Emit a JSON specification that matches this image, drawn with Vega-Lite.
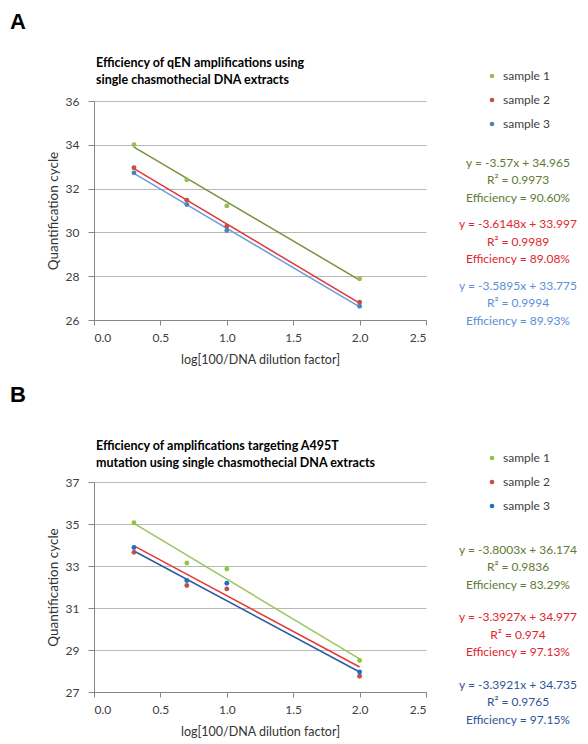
{
  "$schema": "https://vega.github.io/schema/vega-lite/v6.json",
  "background": "white",
  "padding": {"left": 10, "top": 10, "right": 0, "bottom": 0},
  "config": {
    "font": "Lato",
    "view": {"stroke": null},
    "axis": {
      "labelFont": "Lato", "labelFontSize": 12, "labelColor": "#404040",
      "titleFont": "Lato", "titleFontWeight": "normal", "titleColor": "#333333",
      "domainColor": "#868686", "tickColor": "#868686", "gridColor": "#b8b8b8"
    },
    "legend": {
      "labelFont": "Lato", "labelFontSize": 12, "labelColor": "#404040",
      "symbolType": "circle", "symbolSize": 22, "rowPadding": 12, "labelOffset": 5, "padding": 0
    }
  },
  "datasets": {
    "a": [
      {"sample": "sample 1", "x": 0.301, "qc": 34.0},
      {"sample": "sample 1", "x": 0.699, "qc": 32.4},
      {"sample": "sample 1", "x": 1.0, "qc": 31.21},
      {"sample": "sample 1", "x": 2.0, "qc": 27.88},
      {"sample": "sample 2", "x": 0.301, "qc": 32.95},
      {"sample": "sample 2", "x": 0.699, "qc": 31.47},
      {"sample": "sample 2", "x": 1.0, "qc": 30.28},
      {"sample": "sample 2", "x": 2.0, "qc": 26.81},
      {"sample": "sample 3", "x": 0.301, "qc": 32.72},
      {"sample": "sample 3", "x": 0.699, "qc": 31.27},
      {"sample": "sample 3", "x": 1.0, "qc": 30.09},
      {"sample": "sample 3", "x": 2.0, "qc": 26.63}
    ],
    "trendA": [
      {"sample": "sample 1", "x": 0.301, "qc": 33.89},
      {"sample": "sample 1", "x": 2.0, "qc": 27.825},
      {"sample": "sample 2", "x": 0.301, "qc": 32.909},
      {"sample": "sample 2", "x": 2.0, "qc": 26.768},
      {"sample": "sample 3", "x": 0.301, "qc": 32.695},
      {"sample": "sample 3", "x": 2.0, "qc": 26.596}
    ],
    "b": [
      {"sample": "sample 1", "x": 0.301, "qc": 35.06},
      {"sample": "sample 1", "x": 0.699, "qc": 33.14},
      {"sample": "sample 1", "x": 1.0, "qc": 32.86},
      {"sample": "sample 1", "x": 2.0, "qc": 28.5},
      {"sample": "sample 2", "x": 0.301, "qc": 33.65},
      {"sample": "sample 2", "x": 0.699, "qc": 32.07},
      {"sample": "sample 2", "x": 1.0, "qc": 31.91},
      {"sample": "sample 2", "x": 2.0, "qc": 27.75},
      {"sample": "sample 3", "x": 0.301, "qc": 33.88},
      {"sample": "sample 3", "x": 0.699, "qc": 32.31},
      {"sample": "sample 3", "x": 1.0, "qc": 32.18},
      {"sample": "sample 3", "x": 2.0, "qc": 27.95}
    ],
    "trendB": [
      {"sample": "sample 1", "x": 0.301, "qc": 35.03},
      {"sample": "sample 1", "x": 2.0, "qc": 28.573},
      {"sample": "sample 2", "x": 0.301, "qc": 33.956},
      {"sample": "sample 2", "x": 2.0, "qc": 28.192},
      {"sample": "sample 3", "x": 0.301, "qc": 33.714},
      {"sample": "sample 3", "x": 2.0, "qc": 27.951}
    ],
    "eqA": [
      {"sample": "sample 1", "label": "y = -3.57x + 34.965\nR² = 0.9973\nEfficiency = 90.60%"},
      {"sample": "sample 2", "label": "y = -3.6148x + 33.997\nR² = 0.9989\nEfficiency = 89.08%"},
      {"sample": "sample 3", "label": "y = -3.5895x + 33.775\nR² = 0.9994\nEfficiency = 89.93%"}
    ],
    "eqB": [
      {"sample": "sample 1", "label": "y = -3.8003x + 36.174\nR² = 0.9836\nEfficiency = 83.29%"},
      {"sample": "sample 2", "label": "y = -3.3927x + 34.977\nR² = 0.974\nEfficiency = 97.13%"},
      {"sample": "sample 3", "label": "y = -3.3921x + 34.735\nR² = 0.9765\nEfficiency = 97.15%"}
    ]
  },
  "resolve": {"scale": {"fill": "independent", "stroke": "independent"}, "legend": {"fill": "independent"}},
  "spacing": 17,
  "vconcat": [
    {
      "title": {"text": "A", "anchor": "start", "frame": "bounds", "font": "Liberation Sans", "fontSize": 22, "fontWeight": "bold", "color": "#000000", "offset": 23, "dx": -36},
      "spacing": 27,
      "bounds": "flush",
      "resolve": {"scale": {"fill": "independent"}, "legend": {"fill": "independent"}},
      "hconcat": [
        {
          "width": 332, "height": 219,
          "title": {"text": ["Efficiency of qEN amplifications using", "single chasmothecial DNA extracts"], "anchor": "start", "frame": "group", "font": "Lato", "fontSize": 12.5, "fontWeight": "bold", "color": "#000000", "lineHeight": 17, "offset": -16, "dx": 2},
          "layer": [
            {
              "data": {"name": "trendA"},
              "mark": {"type": "line", "strokeWidth": 1.5},
              "encoding": {
                "x": {"field": "x", "type": "quantitative", "scale": {"domain": [0, 2.5], "nice": false}, "axis": {"values": [0, 0.5, 1, 1.5, 2, 2.5], "format": ".1f", "title": "log[100/DNA dilution factor]", "titleFontSize": 12.5, "tickSize": 5, "labelPadding": 7, "titlePadding": 10, "grid": false}},
                "y": {"field": "qc", "type": "quantitative", "scale": {"domain": [26, 36], "nice": false, "zero": false}, "axis": {"values": [26, 28, 30, 32, 34, 36], "title": "Quantification cycle", "titleFontSize": 13.5, "tickSize": 6, "labelPadding": 9, "titlePadding": 5, "grid": true}},
                "stroke": {"field": "sample", "type": "nominal", "scale": {"domain": ["sample 1", "sample 2", "sample 3"], "range": ["#77933c", "#e3343a", "#6b9bd8"]}, "legend": null}
              }
            },
            {
              "data": {"name": "a"},
              "mark": {"type": "point", "filled": true, "size": 24, "opacity": 1},
              "encoding": {
                "x": {"field": "x", "type": "quantitative"},
                "y": {"field": "qc", "type": "quantitative"},
                "fill": {"field": "sample", "type": "nominal", "scale": {"domain": ["sample 1", "sample 2", "sample 3"], "range": ["#9bbb59", "#c0504d", "#4f81bd"]}, "legend": {"title": null, "orient": "none", "legendX": 392, "legendY": -31}}
              }
            }
          ]
        },
        {
          "width": 130, "height": 246,
          "data": {"name": "eqA"},
          "encoding": {
            "y": {"field": "sample", "type": "ordinal", "scale": {"type": "point", "padding": 1.236}, "axis": null},
            "text": {"field": "label"}
          },
          "layer": [
            {"transform": [{"filter": "datum.sample === 'sample 1'"}], "mark": {"type": "text", "lineBreak": "\n", "fontSize": 12, "lineHeight": 17.5, "baseline": "middle", "align": "center", "color": "#5e7a33"}},
            {"transform": [{"filter": "datum.sample === 'sample 2'"}], "mark": {"type": "text", "lineBreak": "\n", "fontSize": 12, "lineHeight": 17.5, "baseline": "middle", "align": "center", "color": "#e0262c"}},
            {"transform": [{"filter": "datum.sample === 'sample 3'"}], "mark": {"type": "text", "lineBreak": "\n", "fontSize": 12, "lineHeight": 17.5, "baseline": "middle", "align": "center", "color": "#5b8fd6"}}
          ]
        }
      ]
    },
    {
      "title": {"text": "B", "anchor": "start", "frame": "bounds", "font": "Liberation Sans", "fontSize": 22, "fontWeight": "bold", "color": "#000000", "offset": 33, "dx": -36},
      "spacing": 27,
      "bounds": "flush",
      "resolve": {"scale": {"fill": "independent"}, "legend": {"fill": "independent"}},
      "hconcat": [
        {
          "width": 332, "height": 210,
          "title": {"text": ["Efficiency of amplifications targeting A495T", "mutation using single chasmothecial DNA extracts"], "anchor": "start", "frame": "group", "font": "Lato", "fontSize": 12.5, "fontWeight": "bold", "color": "#000000", "lineHeight": 17, "offset": -17, "dx": 2},
          "layer": [
            {
              "data": {"name": "trendB"},
              "mark": {"type": "line", "strokeWidth": 1.5},
              "encoding": {
                "x": {"field": "x", "type": "quantitative", "scale": {"domain": [0, 2.5], "nice": false}, "axis": {"values": [0, 0.5, 1, 1.5, 2, 2.5], "format": ".1f", "title": "log[100/DNA dilution factor]", "titleFontSize": 12.5, "tickSize": 5, "labelPadding": 7, "titlePadding": 10, "grid": false}},
                "y": {"field": "qc", "type": "quantitative", "scale": {"domain": [27, 37], "nice": false, "zero": false}, "axis": {"values": [27, 29, 31, 33, 35, 37], "title": "Quantification cycle", "titleFontSize": 13.5, "tickSize": 6, "labelPadding": 9, "titlePadding": 5, "grid": true}},
                "stroke": {"field": "sample", "type": "nominal", "scale": {"domain": ["sample 1", "sample 2", "sample 3"], "range": ["#9cc45e", "#e53935", "#2a5aa0"]}, "legend": null}
              }
            },
            {
              "data": {"name": "b"},
              "mark": {"type": "point", "filled": true, "size": 24, "opacity": 1},
              "encoding": {
                "x": {"field": "x", "type": "quantitative"},
                "y": {"field": "qc", "type": "quantitative"},
                "fill": {"field": "sample", "type": "nominal", "scale": {"domain": ["sample 1", "sample 2", "sample 3"], "range": ["#8dc63f", "#c0504d", "#1f6fc5"]}, "legend": {"title": null, "orient": "none", "legendX": 392, "legendY": -30}}
              }
            }
          ]
        },
        {
          "width": 130, "height": 270,
          "data": {"name": "eqB"},
          "encoding": {
            "y": {"field": "sample", "type": "ordinal", "scale": {"type": "point", "padding": 1.11}, "axis": null},
            "text": {"field": "label"}
          },
          "layer": [
            {"transform": [{"filter": "datum.sample === 'sample 1'"}], "mark": {"type": "text", "lineBreak": "\n", "fontSize": 12, "lineHeight": 17.5, "baseline": "middle", "align": "center", "color": "#5f7a33"}},
            {"transform": [{"filter": "datum.sample === 'sample 2'"}], "mark": {"type": "text", "lineBreak": "\n", "fontSize": 12, "lineHeight": 17.5, "baseline": "middle", "align": "center", "color": "#e0262c"}},
            {"transform": [{"filter": "datum.sample === 'sample 3'"}], "mark": {"type": "text", "lineBreak": "\n", "fontSize": 12, "lineHeight": 17.5, "baseline": "middle", "align": "center", "color": "#2f5597"}}
          ]
        }
      ]
    }
  ]
}
